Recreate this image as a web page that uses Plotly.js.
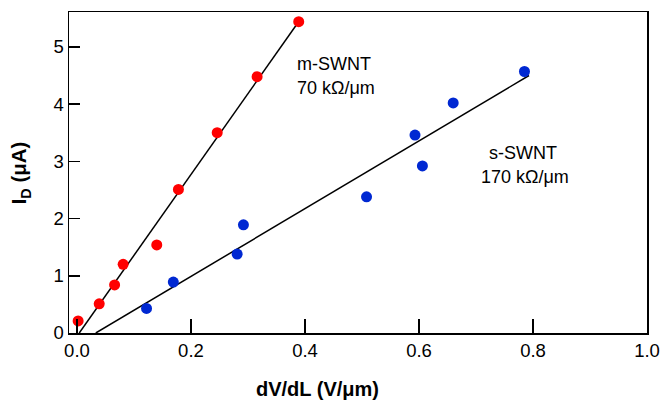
<!DOCTYPE html>
<html>
<head>
<meta charset="utf-8">
<script src="https://cdn.plot.ly/plotly-3.0.1.min.js"></script>
<style>html,body{margin:0;padding:0;background:#fff;}#chart{width:661px;height:401px;}</style>
</head>
<body>
<div id="chart"></div>
<script>
// m-SWNT data (red)
const mX = [0.002, 0.039, 0.066, 0.081, 0.140, 0.178, 0.246, 0.316, 0.389];
const mY = [0.21, 0.51, 0.84, 1.20, 1.54, 2.51, 3.50, 4.48, 5.44];
// m-SWNT fit line
const mFitX = [0.004, 0.386];
const mFitY = [0.0, 5.40];
// s-SWNT data (blue)
const sX = [0.122, 0.169, 0.281, 0.292, 0.508, 0.593, 0.606, 0.660, 0.785];
const sY = [0.43, 0.89, 1.38, 1.89, 2.38, 3.46, 2.92, 4.02, 4.57];
// s-SWNT fit line
const sFitX = [0.033, 0.793];
const sFitY = [0.0, 4.50];
// ticks
const xTicks = [0.0, 0.2, 0.4, 0.6, 0.8, 1.0];
const xTickText = ["0.0", "0.2", "0.4", "0.6", "0.8", "1.0"];
const yTicks = [0, 1, 2, 3, 4, 5];

const font = "Liberation Sans, Arial, sans-serif";
const traces = [
  {x: mFitX, y: mFitY, mode: "lines", line: {color: "#000", width: 1.5}, hoverinfo: "skip"},
  {x: sFitX, y: sFitY, mode: "lines", line: {color: "#000", width: 1.5}, hoverinfo: "skip"},
  {x: mX, y: mY, mode: "markers", marker: {color: "#ff0000", size: 11}},
  {x: sX, y: sY, mode: "markers", marker: {color: "rgb(0,40,210)", size: 11}}
];
const layout = {
  width: 661, height: 401,
  margin: {l: 69, r: 14, t: 12, b: 68},
  showlegend: false,
  paper_bgcolor: "#fff", plot_bgcolor: "#fff",
  font: {family: font, size: 18, color: "#000"},
  xaxis: {
    range: [-0.014, 1.0], tickvals: xTicks, ticktext: xTickText,
    ticks: "inside", ticklen: 14, tickwidth: 1.5, tickcolor: "#000",
    showline: true, linecolor: "#000", linewidth: 1.5, mirror: true,
    showgrid: false, zeroline: false,
    tickfont: {family: font, size: 18.5}
  },
  yaxis: {
    range: [0, 5.61], tickvals: yTicks,
    ticks: "inside", ticklen: 11, tickwidth: 1.5, tickcolor: "#000",
    showline: true, linecolor: "#000", linewidth: 1.5, mirror: true,
    showgrid: false, zeroline: false,
    tickfont: {family: font, size: 18.5}
  },
  annotations: [
    {xref: "paper", yref: "paper", x: 0.43, y: -0.175, yanchor: "middle", xanchor: "center", showarrow: false,
     text: "<b>dV/dL (V/μm)</b>", font: {family: font, size: 20}},
    {xref: "paper", yref: "paper", x: -0.085, y: 0.5, xanchor: "center", yanchor: "middle", showarrow: false,
     textangle: -90, text: "<b>I<sub>D</sub> (μA)</b>", font: {family: font, size: 20.5}},
    {xref: "x", yref: "y", x: 0.383, y: 4.70, xanchor: "left", yanchor: "middle", showarrow: false,
     text: "m-SWNT", font: {family: font, size: 18}},
    {xref: "x", yref: "y", x: 0.383, y: 4.28, xanchor: "left", yanchor: "middle", showarrow: false,
     text: "70 kΩ/μm", font: {family: font, size: 18}},
    {xref: "x", yref: "y", x: 0.782, y: 3.15, xanchor: "center", yanchor: "middle", showarrow: false,
     text: "s-SWNT", font: {family: font, size: 18}},
    {xref: "x", yref: "y", x: 0.786, y: 2.72, xanchor: "center", yanchor: "middle", showarrow: false,
     text: "170 kΩ/μm", font: {family: font, size: 18}}
  ]
};
Plotly.newPlot("chart", traces, layout, {displayModeBar: false, staticPlot: true});
</script>
</body>
</html>
